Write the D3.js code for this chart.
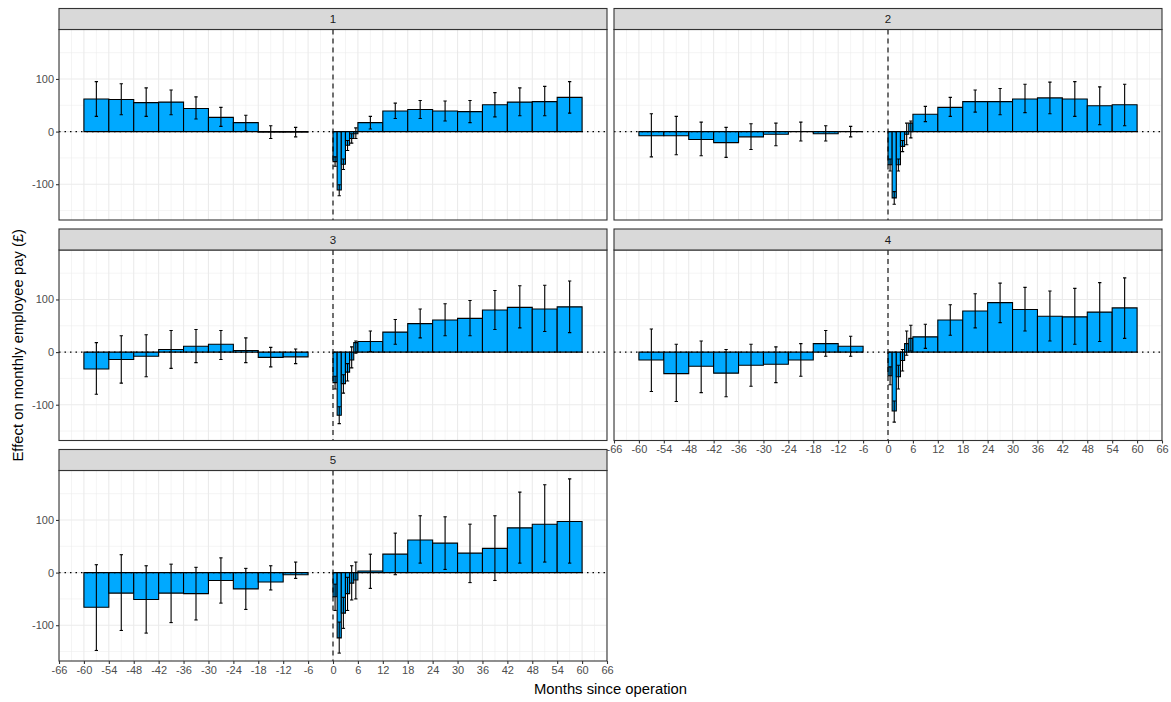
<!DOCTYPE html>
<html>
<head>
<meta charset="utf-8">
<script src="https://cdn.jsdelivr.net/npm/d3@7"></script>
<style>
  html, body { margin: 0; padding: 0; background: #ffffff; }
  svg { display: block; font-family: "Liberation Sans", Arial, sans-serif; }
</style>
</head>
<body>
<svg id="chart" width="1171" height="702"></svg>
<script>
// Event-study estimates: six-month bins before the operation, monthly bins for the
// first six months after it, then six-month bins up to five years.
const binStart = [-60, -54, -48, -42, -36, -30, -24, -18, -12, 0, 1, 2, 3, 4, 5, 6, 12, 18, 24, 30, 36, 42, 48, 54];
const binEnd   = [-54, -48, -42, -36, -30, -24, -18, -12, -6, 1, 2, 3, 4, 5, 6, 12, 18, 24, 30, 36, 42, 48, 54, 60];

const facets = ["1", "2", "3", "4", "5"];

// Point estimates per facet (£ per month)
const estimate = [
  [62, 61, 55, 56, 44, 27, 17, -1, -1,   -57, -111, -62, -26, -13, -4,   17, 39, 42, 39, 38, 51, 56, 57, 65],
  [-8, -8, -15, -21, -10, -5, 0, -4, 0,  -63, -126, -63, -28, -5, 16,    33, 46, 57, 57, 62, 64, 62, 49, 51],
  [-32, -14, -8, 5, 11, 15, 3, -10, -9,  -58, -120, -60, -38, -15, 18,   20, 38, 54, 61, 64, 80, 85, 82, 86],
  [-15, -41, -27, -40, -25, -23, -15, 16, 11, -45, -112, -47, -16, 16, 26, 29, 61, 78, 94, 81, 68, 67, 76, 84],
  [-66, -39, -51, -39, -40, -15, -31, -18, -4, -46, -124, -77, -40, -20, -14, 3, 35, 62, 56, 37, 46, 85, 92, 97]
];
// Lower confidence bounds
const lower = [
  [29, 32, 29, 32, 24, 10, 1, -13, -10,   -66, -122, -72, -36, -22, -13,   5, 25, 25, 20, 17, 28, 30, 30, 35],
  [-48, -44, -46, -49, -34, -27, -18, -18, -10, -75, -138, -75, -38, -25, -12, 19, 29, 37, 32, 36, 34, 29, 13, 11],
  [-80, -59, -47, -31, -20, -14, -20, -28, -22, -70, -136, -78, -55, -30, -2, 1, 15, 27, 31, 31, 43, 46, 39, 37],
  [-75, -94, -77, -85, -65, -58, -46, -8, -8, -62, -133, -70, -36, -6, 2, 7, 32, 46, 56, 40, 21, 15, 20, 26],
  [-148, -110, -115, -95, -90, -58, -70, -33, -11, -72, -153, -106, -72, -52, -50, -30, -4, 18, 6, -19, -15, 18, 20, 18]
];
// Upper confidence bounds
const upper = [
  [95, 91, 83, 79, 66, 46, 31, 11, 8,    -48, -101, -52, -17, -4, 7,    29, 54, 59, 58, 59, 74, 83, 86, 95],
  [34, 29, 18, 8, 15, 16, 18, 11, 10,    -52, -114, -52, -17, 16, 20,   48, 65, 79, 82, 90, 94, 95, 85, 90],
  [18, 31, 33, 41, 43, 41, 27, 9, 6,     -46, -104, -43, -22, 10, 21,   40, 62, 82, 92, 98, 117, 126, 127, 135],
  [44, 15, 21, 5, 15, 10, 16, 41, 30,    -28, -93, -25, 5, 40, 51,      53, 90, 111, 131, 123, 116, 121, 132, 141],
  [15, 34, 13, 16, 10, 28, 8, 13, 20,    -22, -94, -47, -9, 13, 20,     35, 75, 108, 106, 92, 108, 153, 167, 178]
];

const xTicks = d3.range(-66, 67, 6);
const yTicks = [-100, 0, 100];
const xMinor = d3.range(-63, 66, 6);
const yMinor = [-150, -50, 50, 150];

const xTitle = "Months since operation";
const yTitle = "Effect on monthly employee pay (£)";

// Panel grid geometry
const colLeft = [59, 614], colRight = [607, 1162];
const rowTop = [8.5, 229, 449.5];
const stripH = 21;
const plotH = 190.5;

const svg = d3.select("#chart");
const defs = svg.append("defs");

const barFill = "#00A9FF";
const minus = d => (d < 0 ? "-" + Math.abs(d) : String(d));

facets.forEach((name, i) => {
  const col = i % 2, row = Math.floor(i / 2);
  const x0 = colLeft[col], x1 = colRight[col];
  const top = rowTop[row] + stripH, bottom = top + plotH;

  const x = d3.scaleLinear().domain([-66, 66]).range([x0, x1]);
  const y = d3.scaleLinear().domain([-168, 194]).range([bottom, top]);

  const g = svg.append("g");
  const clipId = "clip" + i;
  defs.append("clipPath").attr("id", clipId)
    .append("rect").attr("x", x0).attr("y", top).attr("width", x1 - x0).attr("height", plotH);

  g.append("rect").attr("x", x0).attr("y", top).attr("width", x1 - x0).attr("height", plotH)
    .attr("fill", "#ffffff");

  const inner = g.append("g").attr("clip-path", `url(#${clipId})`);

  // minor grid
  inner.selectAll(".vminor").data(xMinor).join("line")
    .attr("x1", d => x(d)).attr("x2", d => x(d)).attr("y1", top).attr("y2", bottom)
    .attr("stroke", "#ebebeb").attr("stroke-width", 0.55);
  inner.selectAll(".hminor").data(yMinor).join("line")
    .attr("x1", x0).attr("x2", x1).attr("y1", d => y(d)).attr("y2", d => y(d))
    .attr("stroke", "#ebebeb").attr("stroke-width", 0.55);
  // major grid
  inner.selectAll(".vmajor").data(xTicks).join("line")
    .attr("x1", d => x(d)).attr("x2", d => x(d)).attr("y1", top).attr("y2", bottom)
    .attr("stroke", "#ebebeb").attr("stroke-width", 1.1);
  inner.selectAll(".hmajor").data(yTicks).join("line")
    .attr("x1", x0).attr("x2", x1).attr("y1", d => y(d)).attr("y2", d => y(d))
    .attr("stroke", "#ebebeb").attr("stroke-width", 1.1);

  const rows = binStart.map((s, k) => ({
    s, e: binEnd[k], v: estimate[i][k], lo: lower[i][k], hi: upper[i][k]
  }));

  // bars as closed paths so a zero estimate still shows its outline
  inner.selectAll(".bar").data(rows).join("path")
    .attr("d", d => {
      const path = d3.path();
      path.moveTo(x(d.s), y(0));
      path.lineTo(x(d.s), y(d.v));
      path.lineTo(x(d.e), y(d.v));
      path.lineTo(x(d.e), y(0));
      path.closePath();
      return path.toString();
    })
    .attr("fill", barFill).attr("stroke", "#000000").attr("stroke-width", 1.1)
    .attr("stroke-linejoin", "miter");

  // confidence intervals
  const capHalf = 0.4;
  const eb = inner.selectAll(".eb").data(rows).join("g")
    .attr("stroke", "#000000").attr("stroke-width", 1.1).attr("fill", "none");
  eb.append("line")
    .attr("x1", d => x((d.s + d.e) / 2)).attr("x2", d => x((d.s + d.e) / 2))
    .attr("y1", d => y(d.lo)).attr("y2", d => y(d.hi));
  eb.append("line")
    .attr("x1", d => x((d.s + d.e) / 2 - capHalf)).attr("x2", d => x((d.s + d.e) / 2 + capHalf))
    .attr("y1", d => y(d.lo)).attr("y2", d => y(d.lo));
  eb.append("line")
    .attr("x1", d => x((d.s + d.e) / 2 - capHalf)).attr("x2", d => x((d.s + d.e) / 2 + capHalf))
    .attr("y1", d => y(d.hi)).attr("y2", d => y(d.hi));

  // zero reference line and operation date
  inner.append("line").attr("x1", x0).attr("x2", x1).attr("y1", y(0)).attr("y2", y(0))
    .attr("stroke", "#000000").attr("stroke-width", 1.1).attr("stroke-dasharray", "1.5,4");
  inner.append("line").attr("x1", x(0)).attr("x2", x(0)).attr("y1", top).attr("y2", bottom)
    .attr("stroke", "#000000").attr("stroke-width", 1.1).attr("stroke-dasharray", "5,4");

  // panel border
  g.append("rect").attr("x", x0).attr("y", top).attr("width", x1 - x0).attr("height", plotH)
    .attr("fill", "none").attr("stroke", "#333333").attr("stroke-width", 1.1);

  // strip
  g.append("rect").attr("x", x0).attr("y", rowTop[row]).attr("width", x1 - x0).attr("height", stripH)
    .attr("fill", "#d9d9d9").attr("stroke", "#333333").attr("stroke-width", 1.1);
  g.append("text").attr("x", (x0 + x1) / 2).attr("y", rowTop[row] + stripH / 2 + 4)
    .attr("text-anchor", "middle").attr("font-size", 11.5).attr("fill", "#1a1a1a").text(name);

  // y axis on the left column only
  if (col === 0) {
    const ya = d3.axisLeft(y).tickValues(yTicks).tickSize(3).tickPadding(2);
    const ag = g.append("g").attr("transform", `translate(${x0},0)`).call(ya);
    ag.select(".domain").remove();
    ag.selectAll(".tick line").attr("stroke", "#333333").attr("stroke-width", 1.1);
    ag.selectAll(".tick text").attr("fill", "#4d4d4d").attr("font-size", 11)
      .attr("font-family", "Liberation Sans, Arial, sans-serif").text(minus);
  }
  // x axis under the lowest panel of each column
  if (i === 3 || i === 4) {
    const xa = d3.axisBottom(x).tickValues(xTicks).tickSize(3).tickPadding(2);
    const ag = g.append("g").attr("transform", `translate(0,${bottom})`).call(xa);
    ag.select(".domain").remove();
    ag.selectAll(".tick line").attr("stroke", "#333333").attr("stroke-width", 1.1);
    ag.selectAll(".tick text").attr("fill", "#4d4d4d").attr("font-size", 11)
      .attr("font-family", "Liberation Sans, Arial, sans-serif").text(minus);
  }
});

// axis titles, centred on the panel area
const panelsTop = rowTop[0] + stripH, panelsBottom = rowTop[2] + stripH + plotH;
svg.append("text").attr("x", (colLeft[0] + colRight[1]) / 2).attr("y", 694)
  .attr("text-anchor", "middle").attr("font-size", 14.8).attr("fill", "#000000").text(xTitle);
svg.append("text").attr("transform", `translate(23,${(panelsTop + panelsBottom) / 2}) rotate(-90)`)
  .attr("text-anchor", "middle").attr("font-size", 14.8).attr("fill", "#000000").text(yTitle);
</script>
</body>
</html>
